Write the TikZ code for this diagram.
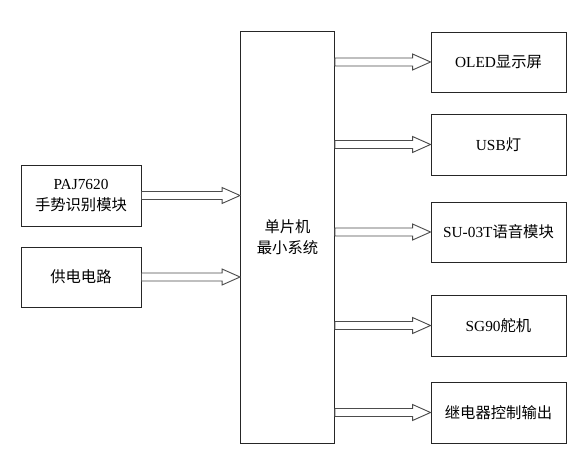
\documentclass[tikz,border=0pt]{standalone}
\usepackage{fontspec}
\setmainfont{Liberation Serif}
\newfontfamily\cjk{Noto Sans CJK SC}
\usetikzlibrary{positioning,calc}

\tikzset{
    blockbox/.style={draw=black!85, line width=0.7pt, fill=white, align=center,
        inner sep=0pt, font=\fontsize{11.5}{15.5}\selectfont},
    fatarr/.style={draw=black!70, line width=0.7pt, fill=white, line join=miter}
}

% hollow arrow from node #1 to node #2, at the height of #1
\newcommand{\fatarrow}[2]{%
    \draw[fatarr] let \p1=(#1), \p2=(#2) in
        (\x1,\y1+3pt) -- (\x2-13.5pt,\y1+3pt) -- (\x2-13.5pt,\y1+6pt) --
        (\x2,\y1) -- (\x2-13.5pt,\y1-6pt) -- (\x2-13.5pt,\y1-3pt) --
        (\x1,\y1-3pt) -- cycle;
}

\begin{document}
\begin{tikzpicture}[x=0.75pt, y=-0.75pt]
    \useasboundingbox (0,0) rectangle (582,456);

    % main controller
    \node[blockbox, minimum width=70.5pt, minimum height=309pt] (mcu) at (287.5,237)
        {\cjk 单片机\\\cjk 最小系统};

    % inputs
    \node[blockbox, minimum width=90pt, minimum height=45.75pt] (paj) at (81,195.5)
        {PAJ7620\\\cjk 手势识别模块};
    \node[blockbox, minimum width=90pt, minimum height=45pt] (power) at (81,277)
        {\cjk 供电电路};

    % outputs
    \node[blockbox, minimum width=101.25pt, minimum height=45pt] (oled) at (498.5,62)
        {OLED{\cjk 显示屏}};
    \node[blockbox, minimum width=101.25pt, minimum height=45.75pt] (usb) at (498.5,144.5)
        {USB{\cjk 灯}};
    \node[blockbox, minimum width=101.25pt, minimum height=45pt] (voice) at (498.5,232)
        {SU-03T{\cjk 语音模块}};
    \node[blockbox, minimum width=101.25pt, minimum height=45.75pt] (servo) at (498.5,325.5)
        {SG90{\cjk 舵机}};
    \node[blockbox, minimum width=101.25pt, minimum height=45.75pt] (relay) at (498.5,412.5)
        {\cjk 继电器控制输出};

    \coordinate (m1) at (mcu.east |- oled.west);
    \coordinate (m2) at (mcu.east |- usb.west);
    \coordinate (m3) at (mcu.east |- voice.west);
    \coordinate (m4) at (mcu.east |- servo.west);
    \coordinate (m5) at (mcu.east |- relay.west);

    \fatarrow{paj.east}{mcu.west}
    \fatarrow{power.east}{mcu.west}
    \fatarrow{m1}{oled.west}
    \fatarrow{m2}{usb.west}
    \fatarrow{m3}{voice.west}
    \fatarrow{m4}{servo.west}
    \fatarrow{m5}{relay.west}
\end{tikzpicture}
\end{document}
